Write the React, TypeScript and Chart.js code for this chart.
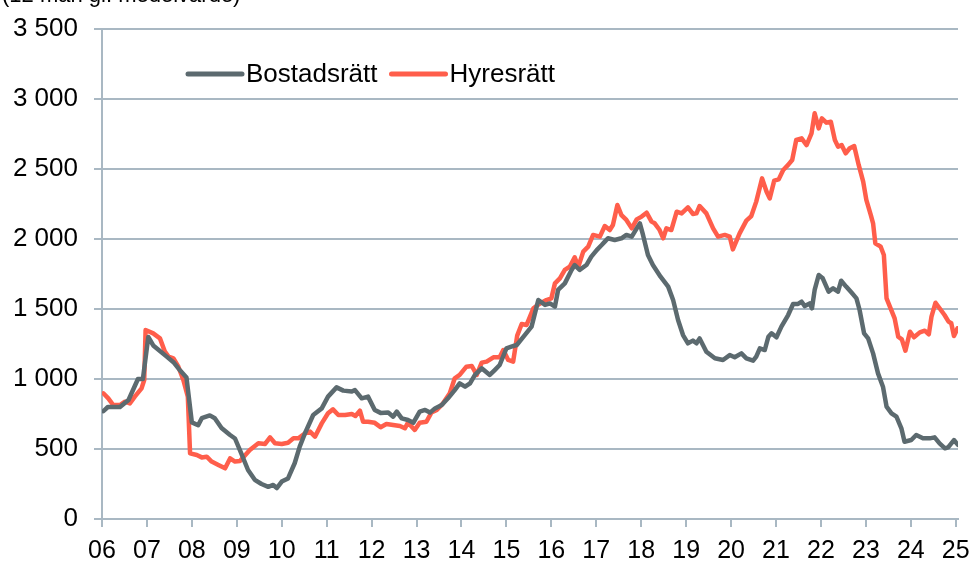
import React, { useEffect, useRef } from "react";
import { Chart, registerables } from "chart.js";

Chart.register(...registerables);

const titleText = "(12 mån gl. medelvärde)";
const seriesLabels = ["Bostadsrätt", "Hyresrätt"];
const tickYears = [2006, 2007, 2008, 2009, 2010, 2011, 2012, 2013, 2014, 2015, 2016, 2017, 2018, 2019, 2020, 2021, 2022, 2023, 2024, 2025];

const bostadsYears = [
  2006.03, 2006.13, 2006.40, 2006.59, 2006.80, 2006.91, 2007.03, 2007.14, 2007.33, 2007.44,
  2007.59, 2007.74, 2007.88, 2008.00, 2008.14, 2008.22, 2008.40, 2008.51, 2008.66, 2008.85,
  2008.96, 2009.09, 2009.25, 2009.40, 2009.55, 2009.70, 2009.81, 2009.89, 2010.00, 2010.14,
  2010.29, 2010.40, 2010.52, 2010.70, 2010.89, 2011.03, 2011.22, 2011.37, 2011.56, 2011.63,
  2011.78, 2011.92, 2012.07, 2012.20, 2012.37, 2012.48, 2012.56, 2012.67, 2012.81, 2012.93,
  2013.07, 2013.19, 2013.30, 2013.41, 2013.56, 2013.70, 2013.85, 2013.96, 2014.08, 2014.19,
  2014.30, 2014.45, 2014.63, 2014.74, 2014.85, 2015.00, 2015.11, 2015.23, 2015.35, 2015.56,
  2015.71, 2015.86, 2015.97, 2016.08, 2016.15, 2016.30, 2016.45, 2016.52, 2016.63, 2016.78,
  2016.89, 2017.01, 2017.12, 2017.19, 2017.26, 2017.41, 2017.56, 2017.67, 2017.79, 2017.90,
  2017.97, 2018.04, 2018.15, 2018.26, 2018.43, 2018.60, 2018.71, 2018.82, 2018.93, 2019.04,
  2019.15, 2019.23, 2019.30, 2019.45, 2019.64, 2019.82, 2019.97, 2020.08, 2020.23, 2020.34,
  2020.49, 2020.56, 2020.64, 2020.75, 2020.83, 2020.90, 2021.01, 2021.12, 2021.27, 2021.38,
  2021.49, 2021.57, 2021.64, 2021.75, 2021.80, 2021.86, 2021.95, 2022.04, 2022.17, 2022.27,
  2022.38, 2022.45, 2022.56, 2022.68, 2022.79, 2022.86, 2022.96, 2023.05, 2023.16, 2023.27,
  2023.38, 2023.46, 2023.57, 2023.68, 2023.79, 2023.86, 2024.01, 2024.12, 2024.27, 2024.42,
  2024.53, 2024.64, 2024.76, 2024.83, 2024.96, 2025.05,
];
const bostadsValues = [
  770, 800, 800, 850, 1000, 1000, 1300, 1240, 1190, 1160,
  1120, 1060, 1010, 690, 670, 720, 740, 720, 650, 600,
  575, 476, 350, 280, 250, 230, 243, 221, 267, 290,
  400, 517, 614, 743, 790, 874, 940, 917, 910, 921,
  862, 874, 779, 758, 760, 731, 767, 719, 707, 688,
  767, 779, 760, 790, 814, 862, 921, 969, 945, 969,
  1029, 1076, 1029, 1064, 1100, 1219, 1231, 1243, 1290, 1374,
  1564, 1529, 1540, 1517, 1636, 1683, 1779, 1814, 1779, 1814,
  1874, 1921, 1957, 1981, 2005, 1993, 2005, 2029, 2017, 2076,
  2112, 2029, 1886, 1814, 1731, 1660, 1564, 1421, 1314, 1255,
  1274, 1255, 1290, 1195, 1148, 1136, 1171, 1155, 1183, 1148,
  1131, 1160, 1219, 1207, 1302, 1326, 1298, 1374, 1457, 1536,
  1536, 1552, 1521, 1540, 1505, 1636, 1743, 1719, 1624, 1648,
  1624, 1702, 1660, 1617, 1576, 1493, 1326, 1290, 1183, 1040,
  945, 802, 755, 731, 648, 552, 564, 600, 576, 576,
  583, 540, 505, 512, 564, 529,
];

const hyresYears = [
  2006.03, 2006.14, 2006.25, 2006.40, 2006.51, 2006.62, 2006.73, 2006.88, 2006.94, 2006.97,
  2007.14, 2007.29, 2007.40, 2007.48, 2007.59, 2007.70, 2007.81, 2007.91, 2007.96, 2008.11,
  2008.22, 2008.33, 2008.44, 2008.59, 2008.74, 2008.85, 2008.96, 2009.07, 2009.29, 2009.48,
  2009.63, 2009.74, 2009.85, 2010.00, 2010.14, 2010.26, 2010.37, 2010.52, 2010.63, 2010.74,
  2010.89, 2011.03, 2011.14, 2011.26, 2011.41, 2011.56, 2011.64, 2011.74, 2011.81, 2011.92,
  2012.07, 2012.20, 2012.33, 2012.48, 2012.63, 2012.74, 2012.81, 2012.96, 2013.07, 2013.22,
  2013.33, 2013.45, 2013.59, 2013.74, 2013.85, 2013.96, 2014.11, 2014.23, 2014.34, 2014.45,
  2014.56, 2014.71, 2014.85, 2014.93, 2015.04, 2015.15, 2015.24, 2015.34, 2015.45, 2015.60,
  2015.75, 2015.89, 2016.00, 2016.08, 2016.19, 2016.30, 2016.41, 2016.52, 2016.60, 2016.71,
  2016.82, 2016.93, 2017.08, 2017.19, 2017.30, 2017.37, 2017.47, 2017.56, 2017.67, 2017.79,
  2017.90, 2018.01, 2018.12, 2018.23, 2018.30, 2018.41, 2018.49, 2018.56, 2018.67, 2018.79,
  2018.90, 2019.04, 2019.15, 2019.23, 2019.30, 2019.45, 2019.60, 2019.71, 2019.86, 2019.97,
  2020.04, 2020.19, 2020.34, 2020.45, 2020.56, 2020.69, 2020.79, 2020.86, 2020.96, 2021.06,
  2021.16, 2021.27, 2021.36, 2021.45, 2021.57, 2021.68, 2021.79, 2021.86, 2021.95, 2022.02,
  2022.12, 2022.22, 2022.31, 2022.38, 2022.46, 2022.55, 2022.64, 2022.74, 2022.84, 2022.94,
  2023.01, 2023.11, 2023.16, 2023.21, 2023.33, 2023.40, 2023.46, 2023.55, 2023.64, 2023.72,
  2023.80, 2023.88, 2023.98, 2024.07, 2024.20, 2024.31, 2024.40, 2024.46, 2024.55, 2024.64,
  2024.75, 2024.84, 2024.90, 2024.96, 2025.04,
];
const hyresValues = [
  898, 862, 814, 814, 838, 826, 874, 933, 993, 1350,
  1326, 1290, 1195, 1160, 1148, 1088, 993, 874, 469, 457,
  440, 445, 410, 386, 362, 433, 410, 414, 493, 541,
  536, 583, 541, 536, 545, 576, 576, 612, 624, 588,
  683, 755, 783, 743, 743, 750, 736, 774, 695, 695,
  687, 656, 679, 671, 664, 648, 688, 636, 688, 695,
  760, 779, 826, 898, 1005, 1029, 1088, 1093, 1029, 1117,
  1124, 1155, 1155, 1207, 1136, 1124, 1310, 1393, 1386, 1505,
  1540, 1564, 1576, 1683, 1719, 1779, 1802, 1869, 1802, 1910,
  1945, 2029, 2017, 2093, 2064, 2100, 2243, 2171, 2136, 2076,
  2140, 2160, 2188, 2124, 2112, 2064, 2005, 2076, 2064, 2195,
  2183, 2226, 2179, 2183, 2236, 2183, 2076, 2017, 2029, 2017,
  1926, 2040, 2131, 2164, 2267, 2433, 2338, 2290, 2417, 2426,
  2493, 2529, 2564, 2707, 2719, 2671, 2755, 2898, 2790, 2862,
  2831, 2838, 2707, 2660, 2671, 2612, 2648, 2664, 2529, 2410,
  2279, 2171, 2112, 1969, 1945, 1886, 1576, 1505, 1433, 1302,
  1283, 1202, 1338, 1298, 1333, 1345, 1319, 1445, 1545, 1505,
  1457, 1410, 1398, 1307, 1362,
];

const GRID = "#A9B8C3";
const GRAY = "#5C6A6F";
const RED = "#FF5E4B";
const SANS = '"Liberation Sans", Arial, sans-serif';

function fmtThousands(v: number): string {
  if (v >= 1000) {
    const th = Math.floor(v / 1000);
    const rest = String(v % 1000).padStart(3, "0");
    return th + " " + rest;
  }
  return String(v);
}

const overlayPlugin = {
  id: "overlay",
  afterDraw(chart: any) {
    const ctx = chart.ctx;
    ctx.save();
    ctx.fillStyle = "#000";
    ctx.font = "22px " + SANS;
    ctx.textBaseline = "alphabetic";
    ctx.textAlign = "left";
    ctx.fillText(titleText, 2, 2);

    const y = 74;
    let x = 188;
    ctx.font = "26px " + SANS;
    chart.data.datasets.forEach((ds: any) => {
      ctx.strokeStyle = ds.borderColor;
      ctx.lineWidth = 5;
      ctx.lineCap = "round";
      ctx.beginPath();
      ctx.moveTo(x, y);
      ctx.lineTo(x + 54, y);
      ctx.stroke();
      ctx.fillStyle = "#000";
      ctx.textBaseline = "middle";
      ctx.fillText(ds.label, x + 58, y + 1);
      const w = ctx.measureText(ds.label).width;
      x = x + 58 + w + 14;
    });
    ctx.restore();
  },
};

export default function App() {
  const ref = useRef<HTMLCanvasElement | null>(null);

  useEffect(() => {
    if (!ref.current) return;
    const chart = new Chart(ref.current, {
      type: "line",
      data: {
        datasets: [
          {
            label: seriesLabels[0],
            data: bostadsYears.map((x, i) => ({ x, y: bostadsValues[i] })),
            borderColor: GRAY,
            backgroundColor: GRAY,
            borderWidth: 4.5,
            pointRadius: 0,
            tension: 0,
            borderJoinStyle: "round",
            borderCapStyle: "round",
          },
          {
            label: seriesLabels[1],
            data: hyresYears.map((x, i) => ({ x, y: hyresValues[i] })),
            borderColor: RED,
            backgroundColor: RED,
            borderWidth: 4.5,
            pointRadius: 0,
            tension: 0,
            borderJoinStyle: "round",
            borderCapStyle: "round",
          },
        ],
      },
      options: {
        responsive: false,
        animation: false,
        layout: { padding: { top: 29, right: 0, left: 0, bottom: 0 } },
        plugins: {
          legend: { display: false },
          tooltip: { enabled: false },
          title: { display: false },
        },
        scales: {
          x: {
            type: "linear",
            min: 2006,
            max: 2025.05,
            afterBuildTicks: (scale: any) => {
              scale.ticks = tickYears.map((v) => ({ value: v }));
            },
            afterFit: (scale: any) => {
              scale.height = 42;
              scale.paddingRight = 15;
            },
            grid: {
              drawOnChartArea: false,
              drawTicks: true,
              tickLength: 8,
              color: GRID,
              lineWidth: 2,
            },
            border: { display: true, color: GRID, width: 2 },
            ticks: {
              autoSkip: false,
              maxRotation: 0,
              padding: 9,
              color: "#000",
              font: { family: SANS, size: 25 },
              callback: (v: any) => String(Math.round(Number(v)) % 100).padStart(2, "0"),
            },
          },
          y: {
            min: 0,
            max: 3500,
            afterFit: (scale: any) => {
              scale.width = 102;
              scale.paddingTop = 0;
              scale.paddingBottom = 0;
            },
            grid: {
              drawOnChartArea: true,
              drawTicks: true,
              tickLength: 8,
              color: GRID,
              lineWidth: 2,
            },
            border: { display: true, color: GRID, width: 2 },
            ticks: {
              stepSize: 500,
              padding: 16,
              color: "#000",
              font: { family: SANS, size: 26 },
              callback: (v: any) => fmtThousands(Number(v)),
            },
          },
        },
      },
      plugins: [overlayPlugin],
    } as any);
    return () => chart.destroy();
  }, []);

  return (
    <div style={{ position: "absolute", left: 0, top: 0, width: 973, height: 561, background: "#fff" }}>
      <canvas ref={ref} width={973} height={561} style={{ display: "block" }} />
    </div>
  );
}
